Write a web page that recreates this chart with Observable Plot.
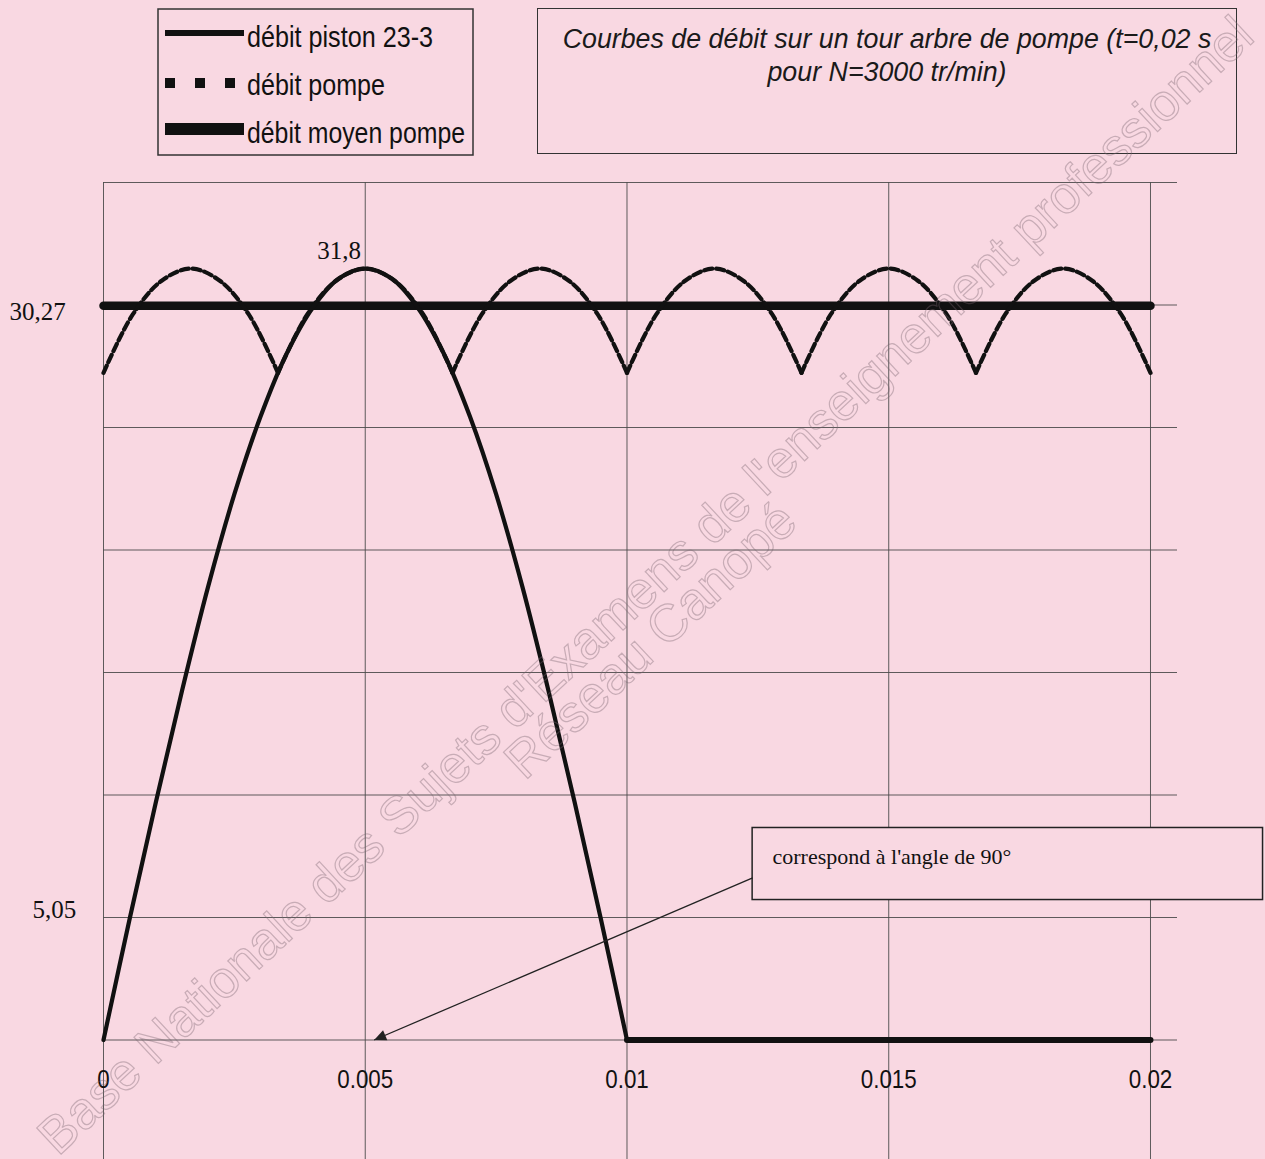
<!DOCTYPE html>
<html>
<head>
<meta charset="utf-8">
<script src="https://cdn.jsdelivr.net/npm/d3@7"></script>
<script src="https://cdn.jsdelivr.net/npm/@observablehq/plot@0.6"></script>
<style>
  html, body { margin: 0; padding: 0; background: #f9d8e2; width: 1265px; height: 1159px; overflow: hidden; }
  #wrap { position: relative; width: 1265px; height: 1159px; overflow: hidden; }
  #header { position: relative; height: 160px; }
  #legend { position: absolute; left: 150px; top: 0; }
  #title { position: absolute; left: 537px; top: 8px; width: 700px; height: 146px; box-sizing: border-box;
           border: 1.5px solid #333; font: italic 26.8px "Liberation Sans", Arial, sans-serif; color: #1a1a1a;
           text-align: center; line-height: 33px; padding-top: 14px; white-space: nowrap; }
  #chart svg { display: block; }
  .wm { position: absolute; transform: translate(-50%, -50%) rotate(-43deg);
        white-space: nowrap; font: 52px "Liberation Sans", Arial, sans-serif; line-height: 60px;
        color: rgba(0,0,0,0); -webkit-text-stroke: 1.2px rgba(120, 100, 110, 0.38); pointer-events: none; }
  #wm1 { left: 645px; top: 585px; }
  #wm2 { left: 650px; top: 640px; }
</style>
</head>
<body>
<div id="wrap">
  <div id="header">
    <div id="legend"></div>
    <div id="title">Courbes de débit sur un tour arbre de pompe (t=0,02 s<br>pour N=3000 tr/min)</div>
  </div>
  <div id="chart"></div>
  <div class="wm" id="wm1">Base Nationale des Sujets d'Examens de l'enseignement professionnel</div>
  <div class="wm" id="wm2">Réseau Canopé</div>
</div>
<script>
// ---------- data ----------
const xTicks = [0, 0.005, 0.01, 0.015, 0.02];
const xTickLabels = ["0", "0.005", "0.01", "0.015", "0.02"];
const yGrid = [-5.05, 0, 5.05, 10.1, 15.15, 20.2, 25.25, 30.3, 35.35];

// débit piston 23-3 (arch, then zero)
const pistonT = [0, 0.0005, 0.001, 0.0015, 0.002, 0.0025, 0.003, 0.0035, 0.004, 0.0045, 0.005,
                 0.0055, 0.006, 0.0065, 0.007, 0.0075, 0.008, 0.0085, 0.009, 0.0095, 0.01];
const pistonQ = [0, 5.0, 9.8, 14.4, 18.7, 22.5, 25.7, 28.3, 30.2, 31.4, 31.8,
                 31.4, 30.2, 28.3, 25.7, 22.5, 18.7, 14.4, 9.8, 5.0, 0];
const pistonRestT = [0.01, 0.02];
const pistonRestQ = [0, 0];

// débit pompe
const pumpT = [0, 0.000556, 0.001111, 0.001667, 0.002222, 0.002778, 0.003333, 0.003889, 0.004444, 0.005,
               0.005556, 0.006111, 0.006667, 0.007222, 0.007778, 0.008333, 0.008889, 0.009444, 0.01,
               0.010556, 0.011111, 0.011667, 0.012222, 0.012778, 0.013333, 0.013889, 0.014444, 0.015,
               0.015556, 0.016111, 0.016667, 0.017222, 0.017778, 0.018333, 0.018889, 0.019444, 0.02];
const pumpQ = [27.5, 29.9, 31.3, 31.8, 31.3, 29.9, 27.5, 29.9, 31.3, 31.8,
               31.3, 29.9, 27.5, 29.9, 31.3, 31.8, 31.3, 29.9, 27.5,
               29.9, 31.3, 31.8, 31.3, 29.9, 27.5, 29.9, 31.3, 31.8,
               31.3, 29.9, 27.5, 29.9, 31.3, 31.8, 31.3, 29.9, 27.5];

// débit moyen pompe
const meanT = [0, 0.02];
const meanQ = [30.27, 30.27];

// value labels
const labelMean = [{y: 30.27, text: "30,27"}];
const labelGrid = [{y: 5.05, text: "5,05"}];
const labelPeak = [{x: 0.005, y: 31.8, text: "31,8"}];

// annotation (data-space anchors)
const noteBox = [{x1: 0.0124, x2: 0.02215, y1: 5.77, y2: 8.74}];
const noteText = [{x: 0.01278, y: 7.55, text: "correspond à l'angle de 90°"}];
const noteArrow = [{x1: 0.0124, y1: 6.68, x2: 0.00517, y2: 0}];

// legend entries
const legendLabels = ["débit piston 23-3", "débit pompe", "débit moyen pompe"];

// ---------- build tables ----------
const piston = pistonT.map((t, i) => ({t, q: pistonQ[i]}));
const pistonRest = pistonRestT.map((t, i) => ({t, q: pistonRestQ[i]}));
const pump = [];
pumpT.forEach((t, i) => {
  const lobe = Math.floor(i / 6);
  if (i % 6 === 0 && i > 0) pump.push({t, q: pumpQ[i], lobe: lobe - 1});
  if (lobe < 6) pump.push({t, q: pumpQ[i], lobe});
});
const mean = meanT.map((t, i) => ({t, q: meanQ[i]}));
const ticks = xTicks.map((t, i) => ({t, label: xTickLabels[i]}));

const serif = '"Liberation Serif", "Times New Roman", serif';
const sans = '"Liberation Sans", Arial, sans-serif';
const gridColor = "#4d4d4d";

const plot = Plot.plot({
  width: 1265,
  height: 1002,
  marginLeft: 103,
  marginRight: 88,
  marginTop: 22,
  marginBottom: 0,
  x: {domain: [0, 0.020516], axis: null},
  y: {domain: [-5.05, 35.35], axis: null},
  style: {background: "transparent", overflow: "visible"},
  marks: [
    Plot.ruleY(yGrid, {stroke: gridColor, strokeWidth: 1, strokeOpacity: 0.9}),
    Plot.ruleX(xTicks, {stroke: gridColor, strokeWidth: 1, strokeOpacity: 0.9}),
    Plot.text(ticks, {x: "t", y: 0, text: "label", dy: 40, fontFamily: sans, fontSize: 26, fill: "#111"}),
    Plot.line(mean, {x: "t", y: "q", stroke: "#111", strokeWidth: 8.5}),
    Plot.line(pump, {x: "t", y: "q", z: "lobe", stroke: "#111", strokeWidth: 4.2, strokeDasharray: "8,4", curve: "catmull-rom"}),
    Plot.line(piston, {x: "t", y: "q", stroke: "#111", strokeWidth: 4.2, curve: "catmull-rom"}),
    Plot.line(pistonRest, {x: "t", y: "q", stroke: "#111", strokeWidth: 6}),
    Plot.text(labelMean, {x: 0, y: "y", text: "text", textAnchor: "start", dx: -94, dy: 6, fontFamily: serif, fontSize: 25, fill: "#111"}),
    Plot.text(labelGrid, {x: 0, y: "y", text: "text", textAnchor: "start", dx: -71, dy: -8, fontFamily: serif, fontSize: 25, fill: "#111"}),
    Plot.text(labelPeak, {x: "x", y: "y", text: "text", dx: -26, dy: -18, fontFamily: serif, fontSize: 25, fill: "#111"}),
    Plot.rect(noteBox, {x1: "x1", x2: "x2", y1: "y1", y2: "y2", fill: "#f9d8e2", stroke: "#222", strokeWidth: 1.5}),
    Plot.text(noteText, {x: "x", y: "y", text: "text", textAnchor: "start", fontFamily: serif, fontSize: 22, fill: "#111"}),
    Plot.link(noteArrow, {x1: "x1", y1: "y1", x2: "x2", y2: "y2", stroke: "#222", strokeWidth: 1.3})
  ]
});
document.getElementById("chart").appendChild(plot);

const svg = d3.select(plot);

// condensed tick labels (narrow face imitation)
const tickGroup = svg.selectAll('g[aria-label="text"]').nodes()[0];
d3.select(tickGroup).selectAll("text").each(function () {
  const w = this.getComputedTextLength();
  d3.select(this).attr("textLength", w * 0.86).attr("lengthAdjust", "spacingAndGlyphs");
});

// filled arrowhead on the annotation link
const defs = svg.insert("defs", ":first-child");
defs.append("marker")
  .attr("id", "ahead").attr("viewBox", "0 -5 10 10").attr("refX", 10).attr("refY", 0)
  .attr("markerUnits", "userSpaceOnUse").attr("markerWidth", 14).attr("markerHeight", 12)
  .attr("orient", "auto")
  .append("path").attr("d", "M0,-4.5L10,0L0,4.5Z").attr("fill", "#222");
svg.selectAll('g[aria-label="link"] path').attr("marker-end", "url(#ahead)");

// legend
const lg = d3.select("#legend").append("svg").attr("width", 330).attr("height", 160);
lg.append("rect").attr("x", 8).attr("y", 9).attr("width", 315).attr("height", 146)
  .attr("fill", "none").attr("stroke", "#333").attr("stroke-width", 1.5);
const legendStyles = [
  {width: 6, dash: null, textW: 186},
  {width: 10, dash: "10,20", textW: 138},
  {width: 12, dash: null, textW: 218}
];
const rowLineY = [33, 83, 129];
const rowTextY = [47, 95, 143];
legendLabels.forEach((label, i) => {
  const s = legendStyles[i];
  lg.append("line").attr("x1", 15).attr("x2", 94).attr("y1", rowLineY[i]).attr("y2", rowLineY[i])
    .attr("stroke", "#111").attr("stroke-width", s.width).attr("stroke-dasharray", s.dash);
  lg.append("text").attr("x", 97).attr("y", rowTextY[i]).text(label)
    .attr("font-family", sans).attr("font-size", 30).attr("fill", "#111")
    .attr("textLength", s.textW).attr("lengthAdjust", "spacingAndGlyphs");
});
</script>
</body>
</html>
